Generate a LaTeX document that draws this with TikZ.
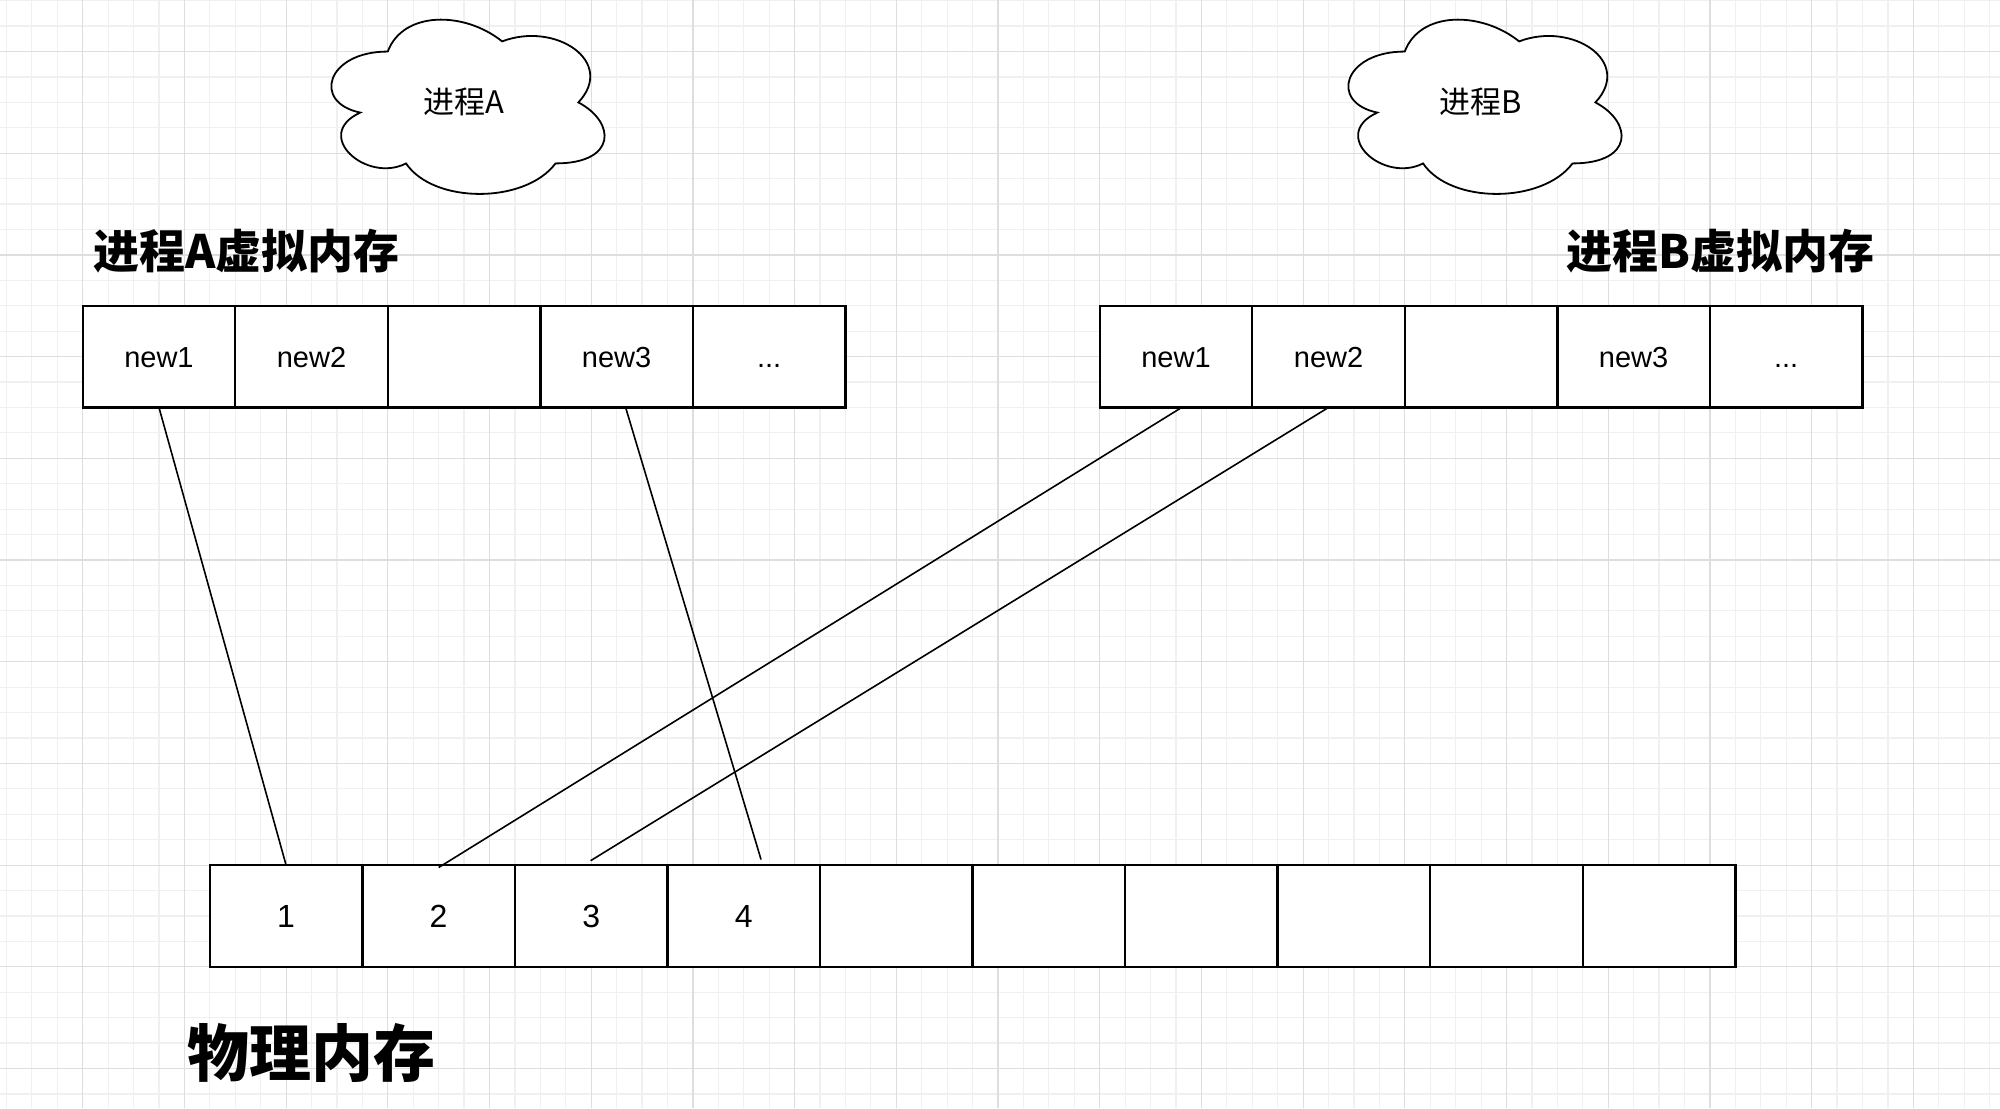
\documentclass[tikz,border=0pt]{standalone}
\usepackage{fontspec}
\setmainfont{Liberation Sans}
\newfontfamily\cjk{Noto Sans CJK SC}
\begin{document}
\begin{tikzpicture}[x=0.5pt,y=-0.5pt]
\tikzset{
  cell/.style={draw=black, line width=1.2pt, fill=white, minimum width=76.275pt, minimum height=50.85pt, inner sep=0pt, outer sep=0pt, text height=10.4pt, text depth=0pt, font=\fontsize{14.5}{17}\selectfont},
  pcell/.style={cell, text height=11.5pt, font=\fontsize{16}{19}\selectfont},
  link/.style={draw=black, line width=0.8pt},
  vtitle/.style={font=\cjk\bfseries\fontsize{23}{28}\selectfont, inner sep=0pt},
  ptitle/.style={font=\cjk\bfseries\fontsize{31}{36}\selectfont, inner sep=0pt},
  cloudtext/.style={font=\cjk\fontsize{15.5}{18}\selectfont, inner sep=0pt},
  cloudline/.style={draw=black, line width=0.9pt, fill=white},
  minorgrid/.style={draw=black!6, line width=0.6pt},
  majorgrid/.style={draw=black!13, line width=0.6pt}
}
\useasboundingbox (0,0) rectangle (2000,1108);
\fill[white] (0,0) rectangle (2000,1108);
% grid
\foreach \k in {-3,...,75} \draw[minorgrid] ({82.7+\k*25.425},0) -- ({82.7+\k*25.425},1108);
\foreach \k in {-2,...,41} \draw[minorgrid] (0,{51.5+\k*25.425}) -- (2000,{51.5+\k*25.425});
\foreach \k in {0,4,...,72} \draw[majorgrid] ({82.7+\k*25.425},0) -- ({82.7+\k*25.425},1108);
\foreach \k in {0,4,...,40} \draw[majorgrid] (0,{51.5+\k*25.425}) -- (2000,{51.5+\k*25.425});
% clouds
\begin{scope}[shift={(311.5,0.7)}, x=152.5pt, y=-101.7pt]
  \draw[cloudline] (0.25,0.25) .. controls (0.05,0.25) and (0,0.5) .. (0.16,0.55)
    .. controls (0,0.66) and (0.18,0.9) .. (0.31,0.8)
    .. controls (0.4,1) and (0.7,1) .. (0.8,0.8)
    .. controls (1,0.8) and (1,0.6) .. (0.875,0.5)
    .. controls (1,0.3) and (0.8,0.1) .. (0.625,0.2)
    .. controls (0.5,0.05) and (0.3,0.05) .. (0.25,0.25) -- cycle;
  \node[cloudtext] (cloudA) at (0.5,0.5) {进程A};
\end{scope}
\begin{scope}[shift={(1328.5,0.7)}, x=152.5pt, y=-101.7pt]
  \draw[cloudline] (0.25,0.25) .. controls (0.05,0.25) and (0,0.5) .. (0.16,0.55)
    .. controls (0,0.66) and (0.18,0.9) .. (0.31,0.8)
    .. controls (0.4,1) and (0.7,1) .. (0.8,0.8)
    .. controls (1,0.8) and (1,0.6) .. (0.875,0.5)
    .. controls (1,0.3) and (0.8,0.1) .. (0.625,0.2)
    .. controls (0.5,0.05) and (0.3,0.05) .. (0.25,0.25) -- cycle;
  \node[cloudtext] (cloudB) at (0.5,0.5) {进程B};
\end{scope}
% titles
\node[vtitle] (titleA) at (246.6,251.5) {进程A虚拟内存};
\node[vtitle] (titleB) at (1720.8,251.5) {进程B虚拟内存};
\node[ptitle] (titleP) at (311,1053) {物理内存};
% virtual memory A
\node[cell] (a1) at (158.975,356.6) {new1};
\node[cell] (a2) at (311.525,356.6) {new2};
\node[cell] (a3) at (464.075,356.6) {};
\node[cell] (a4) at (616.625,356.6) {new3};
\node[cell] (a5) at (769.175,356.6) {...};
% virtual memory B
\node[cell] (b1) at (1175.975,356.6) {new1};
\node[cell] (b2) at (1328.525,356.6) {new2};
\node[cell] (b3) at (1481.075,356.6) {};
\node[cell] (b4) at (1633.625,356.6) {new3};
\node[cell] (b5) at (1786.175,356.6) {...};
% physical memory
\node[pcell] (p1) at (286.075,915.95) {1};
\node[pcell] (p2) at (438.625,915.95) {2};
\node[pcell] (p3) at (591.175,915.95) {3};
\node[pcell] (p4) at (743.725,915.95) {4};
\node[pcell] (p5) at (896.275,915.95) {};
\node[pcell] (p6) at (1048.825,915.95) {};
\node[pcell] (p7) at (1201.375,915.95) {};
\node[pcell] (p8) at (1353.925,915.95) {};
\node[pcell] (p9) at (1506.475,915.95) {};
\node[pcell] (p10) at (1659.025,915.95) {};
% connectors
\draw[link] (a1.south) -- (p1.north);
\draw[link] ([xshift=4.5pt]a4.south) -- ([xshift=8.65pt,yshift=2.8pt]p4.north);
\draw[link] ([xshift=2.85pt]b1.south) -- ([yshift=-1.2pt]p2.north);
\draw[link] (b2.south) -- ([xshift=-0.3pt,yshift=2.2pt]p3.north);
\end{tikzpicture}
\end{document}
